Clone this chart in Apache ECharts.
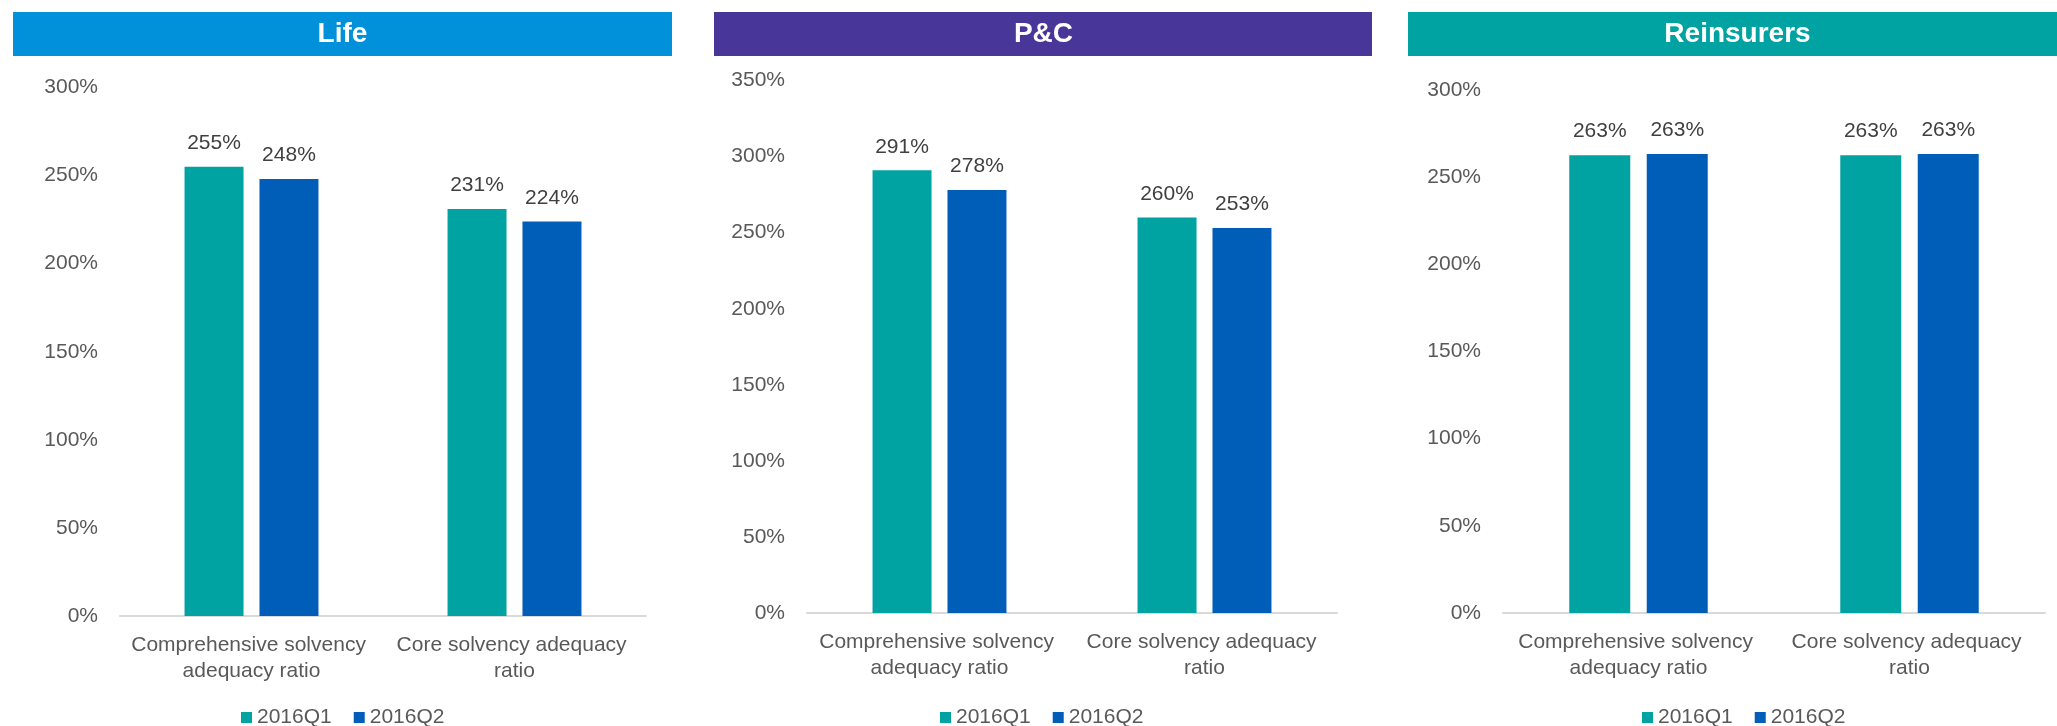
<!DOCTYPE html>
<html>
<head>
<meta charset="utf-8">
<script src="https://cdn.jsdelivr.net/npm/echarts@6/dist/echarts.min.js"></script>
<style>
  html, body { margin: 0; padding: 0; background: #ffffff; }
  #chart { width: 2057px; height: 726px; }
</style>
</head>
<body>
<div id="chart"></div>
<script>
// Solvency adequacy ratios by insurer type, 2016Q1 vs 2016Q2
const panelTitles = ['Life', 'P&C', 'Reinsurers'];
const categories = ['Comprehensive solvency adequacy ratio', 'Core solvency adequacy ratio'];
const seriesNames = ['2016Q1', '2016Q2'];

const lifeQ1 = [255, 231];
const lifeQ2 = [248, 224];
const pcQ1 = [291, 260];
const pcQ2 = [278, 253];
const reinsQ1 = [262.6, 262.6];
const reinsQ2 = [263.3, 263.3];

const yMax = [300, 350, 300];
const yInterval = 50;

// Styling and layout
const FONT = '"Liberation Sans", Arial, sans-serif';
const seriesColors = ['#00A3A1', '#005EB8'];
const headerColors = ['#0091DA', '#483698', '#00A3A1'];
const panelData = [[lifeQ1, lifeQ2], [pcQ1, pcQ2], [reinsQ1, reinsQ2]];

const grids = [
  { left: 120, top: 87.5, width: 526, height: 528.5 },
  { left: 807, top: 80.5, width: 530, height: 532.5 },
  { left: 1503, top: 90, width: 542, height: 523 }
];
const headers = [
  { x: 13, width: 659 },
  { x: 714, width: 658 },
  { x: 1408, width: 659 }
];
const legendLeft = [241, 940, 1642];
const barWidths = [59, 59, 61];

const chart = echarts.init(document.getElementById('chart'), null, { renderer: 'canvas' });

const xAxes = [], yAxes = [], series = [], legends = [], graphics = [];

panelTitles.forEach((title, i) => {
  xAxes.push({
    type: 'category',
    gridIndex: i,
    data: categories,
    axisLine: { show: true, lineStyle: { color: '#D9D9D9', width: 2 } },
    axisTick: { show: false },
    axisLabel: {
      interval: 0,
      margin: 16,
      color: '#595959',
      fontFamily: FONT,
      fontSize: 21,
      lineHeight: 26,
      width: 255,
      overflow: 'break'
    }
  });
  yAxes.push({
    type: 'value',
    gridIndex: i,
    min: 0,
    max: yMax[i],
    interval: yInterval,
    axisLine: { show: false },
    axisTick: { show: false },
    splitLine: { show: false },
    axisLabel: {
      margin: 22,
      color: '#595959',
      fontFamily: FONT,
      fontSize: 21,
      formatter: '{value}%'
    }
  });
  seriesNames.forEach((name, s) => {
    series.push({
      type: 'bar',
      name: name,
      xAxisIndex: i,
      yAxisIndex: i,
      data: panelData[i][s],
      barWidth: barWidths[i],
      barGap: '27%',
      itemStyle: { color: seriesColors[s] },
      label: {
        show: true,
        position: 'top',
        distance: 13,
        color: '#404040',
        fontFamily: FONT,
        fontSize: 21,
        formatter: p => Math.round(p.value) + '%'
      }
    });
  });
  legends.push({
    data: seriesNames,
    left: legendLeft[i],
    top: 707,
    padding: 0,
    icon: 'rect',
    itemWidth: 11,
    itemHeight: 11,
    itemGap: 22,
    textStyle: { color: '#595959', fontFamily: FONT, fontSize: 21 }
  });
  graphics.push({
    type: 'group',
    children: [
      {
        type: 'rect',
        shape: { x: headers[i].x, y: 12, width: headers[i].width, height: 44 },
        style: { fill: headerColors[i] }
      },
      {
        type: 'text',
        x: headers[i].x + 329.5,
        y: 34,
        style: {
          text: title,
          fill: '#ffffff',
          font: 'bold 28px ' + FONT,
          align: 'center',
          verticalAlign: 'middle'
        }
      }
    ]
  });
});

chart.setOption({
  animation: false,
  backgroundColor: '#ffffff',
  grid: grids,
  xAxis: xAxes,
  yAxis: yAxes,
  legend: legends,
  series: series,
  graphic: graphics
});
</script>
</body>
</html>
